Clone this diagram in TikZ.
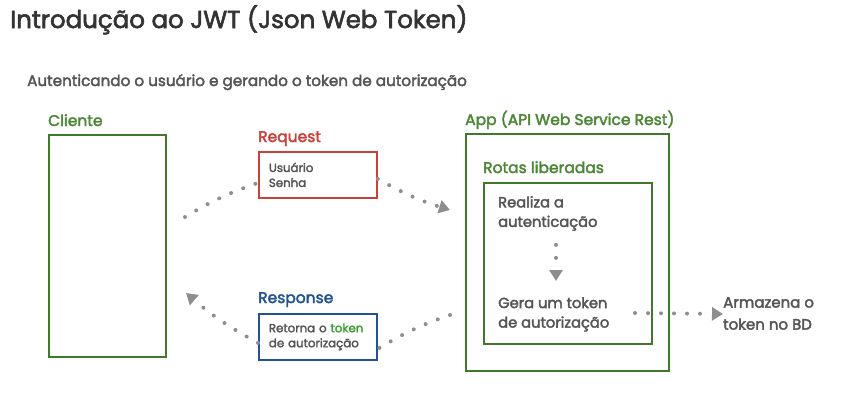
\documentclass[tikz,border=0pt]{standalone}
\usepackage{fontspec}
\setmainfont{Poppins}[FakeBold=2.5]
\usetikzlibrary{arrows.meta,positioning}
\definecolor{titlegray}{HTML}{333333}
\definecolor{textgray}{HTML}{555555}
\definecolor{appgreen}{HTML}{3F7A2C}
\definecolor{lblgreen}{HTML}{4C8636}
\definecolor{reqred}{HTML}{C8423A}
\definecolor{resblue}{HTML}{23538F}
\definecolor{tokgreen}{HTML}{3DA033}
\definecolor{flowgray}{HTML}{8E8E8E}

\begin{document}
\begin{tikzpicture}[x=1pt,y=-1pt,
  lbl/.style={anchor=base west,inner sep=0pt,font=\fontsize{15.5}{18}\selectfont},
  frame/.style={draw,line width=1.8pt,anchor=north west,inner sep=0pt},
  msgbox/.style={frame,align=left,text=textgray,text width=98pt,inner xsep=10pt,minimum width=118,minimum height=46,font=\fontsize{11.8}{15}\selectfont},
  steptxt/.style={anchor=north west,inner sep=0pt,align=left,text=textgray,font=\fontsize{14.7}{19.5}\selectfont},
  flowline/.style={draw=flowgray,line width=4pt,line cap=round,dash pattern=on 0pt off 13pt},
  flowarrow/.style={flowline,-{Triangle[length=11pt,width=13pt,fill=flowgray]}}]
\useasboundingbox (0,0) rectangle (856,402);

\node[anchor=base west,inner sep=0pt,text=titlegray,font=\fontsize{24.5}{28}\selectfont] (title) at (10,28) {Introdução ao JWT (Json Web Token)};
\node[anchor=base west,inner sep=0pt,text=textgray,font=\fontsize{15.2}{18}\selectfont] (sub) at (27,86) {Autenticando o usuário e gerando o token de autorização};

% cliente
\node[frame,draw=appgreen,minimum width=117,minimum height=222] (cli) at (48,134) {};
\node[lbl,text=lblgreen] (clilbl) at (48,126) {Cliente};

% request / response
\node[msgbox,draw=reqred] (req) at (258,151) {Usuário\\Senha};
\node[lbl,text=reqred] (reqlbl) at (258,142) {Request};
\node[msgbox,draw=resblue] (res) at (258,313) {Retorna o \textcolor{tokgreen}{token}\\de autorização};
\node[lbl,text=resblue] (reslbl) at (258,303) {Response};

% app
\node[frame,draw=appgreen,minimum width=203,minimum height=237] (app) at (465,133) {};
\node[lbl,text=lblgreen] (applbl) at (465,125) {App (API Web Service Rest)};
\node[frame,draw=appgreen,minimum width=168,minimum height=161] (rotas) at (483,182) {};
\node[lbl,text=lblgreen] (rotaslbl) at (483,173) {Rotas liberadas};
\node[steptxt] (auth) at (498,196) {Realiza a\\autenticação};
\node[steptxt] (gera) at (498,297) {Gera um token\\de autorização};
\node[steptxt,font=\fontsize{15}{22}\selectfont] (bd) at (723,297) {Armazena o\\token no BD};

\coordinate (cliout) at (185,217);
\coordinate (cliin) at (186,293);
\coordinate (appin) at (450,210);
\coordinate (appout) at (450,315);

\draw[flowline] (cliout) to[bend left=6] ([yshift=-8pt]req.west);
\draw[flowarrow] ([yshift=-4pt]req.east) to[bend right=6] (appin);
\draw[flowline] (appout) to[bend right=6] ([yshift=-12pt]res.east);
\draw[flowarrow] ([yshift=-6pt]res.west) to[bend left=6] (cliin);
\draw[flowarrow] (auth.south -| 556,0) ++(0,14) coordinate (authdot) (authdot) -- (556,281);
\draw[flowarrow] (635,313) -- (bd.west |- 0,314);
\end{tikzpicture}
\end{document}
